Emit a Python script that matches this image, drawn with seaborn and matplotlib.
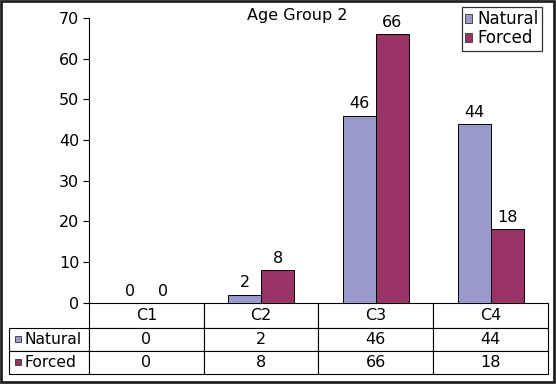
import pandas as pd
import matplotlib.pyplot as plt
import seaborn as sns
from matplotlib.patches import Patch, Rectangle

# data
categories = ['C1', 'C2', 'C3', 'C4']
natural = [0, 2, 46, 44]
forced = [0, 8, 66, 18]
series_names = ['Natural', 'Forced']
colors = {'Natural': '#9999CC', 'Forced': '#993366'}

df = pd.DataFrame({
    'cat': categories * 2,
    'value': natural + forced,
    'series': ['Natural'] * len(categories) + ['Forced'] * len(categories),
})

sns.set_style('white')
plt.rcParams['font.family'] = ['DejaVu Sans']
plt.rcParams['text.color'] = 'black'
plt.rcParams['ytick.color'] = 'black'

fig = plt.figure(figsize=(5.56, 3.84), dpi=100)
ax = fig.add_axes([89 / 556, 1 - 302.7 / 384, 459 / 556, 284.7 / 384])

sns.barplot(data=df, x='cat', y='value', hue='series', order=categories,
            hue_order=series_names, palette=colors, width=0.575,
            edgecolor='black', linewidth=0.7, saturation=1, legend=False, ax=ax)

# value labels over the bars
for cont in ax.containers:
    ax.bar_label(cont, padding=3, fontsize=11.5, color='black')

ax.set_ylim(0, 70)
ax.set_xlim(-0.5, len(categories) - 0.5)
ax.set_yticks(range(0, 71, 10))
ax.set_xticks([])
ax.set_xlabel('')
ax.set_ylabel('')
ax.tick_params(axis='y', length=4, width=0.8, colors='black', pad=3, labelsize=11.5, left=True)
for side in ['top', 'right', 'bottom']:
    ax.spines[side].set_visible(False)
ax.spines['left'].set_color('black')
ax.spines['left'].set_linewidth(0.8)

# data table under the plot
rows = [[''] + categories,
        ['Natural'] + [str(v) for v in natural],
        ['Forced'] + [str(v) for v in forced]]
tbl = ax.table(cellText=rows, colWidths=[80] + [114.75] * 4, cellLoc='center',
               bbox=[-80 / 459, -71.3 / 284.7, 539 / 459, 71.3 / 284.7])
tbl.auto_set_font_size(False)
tbl.set_fontsize(11.5)
for (r, c), cell in tbl.get_celld().items():
    cell.set_height(25 if r == 0 else 23)
    cell.set_linewidth(0.8)
    cell.set_edgecolor('black')
    cell.get_text().set_color('black')
tbl[0, 0].visible_edges = ''
for r in [1, 2]:
    cell = tbl[r, 0]
    cell._loc = 'left'
    cell.PAD = 0.19
    cell.get_text().set_horizontalalignment('left')
    cell.get_text().set_fontsize(11.2)

# little colour keys in front of the row labels
for r, name in zip([338.5, 361.5], series_names):
    ax.plot([(18 - 89) / 459], [-(r - 302.7) / 284.7], marker='s', markersize=4.5,
            color=colors[name], markeredgecolor='#333333', markeredgewidth=0.6,
            transform=ax.transAxes, clip_on=False)

fig.text(297 / 556, 1 - 15.5 / 384, 'Age Group 2', ha='center', va='center', fontsize=11.5)

handles = [Patch(facecolor=colors[n], edgecolor='#333333', linewidth=0.6, label=n) for n in series_names]
leg = fig.legend(handles=handles, loc='upper right', bbox_to_anchor=(542 / 556, 1 - 7 / 384),
                 fontsize=12, frameon=True, fancybox=False, handlelength=0.45, handleheight=0.45,
                 handletextpad=0.3, labelspacing=0.05, borderpad=0.2, borderaxespad=0)
leg.get_frame().set_edgecolor('black')
leg.get_frame().set_linewidth(0.9)

# outer frame of the picture
fig.patches.append(Rectangle((1 / 556, 2 / 384), 553 / 556, 381 / 384, transform=fig.transFigure,
                             fill=False, edgecolor='#222222', linewidth=2))

fig.savefig('out.png', dpi=100)
